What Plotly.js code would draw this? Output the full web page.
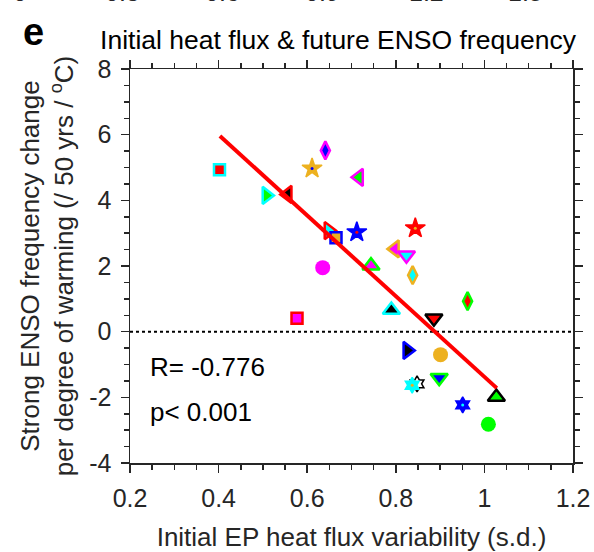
<!DOCTYPE html>
<html>
<head>
<meta charset="utf-8">
<script src="https://cdn.plot.ly/plotly-3.0.1.min.js"></script>
<style>html,body{margin:0;padding:0;background:#fff;}#chart{width:594px;height:552px;}</style>
</head>
<body>
<div id="chart"></div>
<script>
// ---- data ----
const heatFluxSD = [0.402, 0.508, 0.556, 0.641, 0.611, 0.717, 0.648, 0.665, 0.635, 0.712, 0.844, 0.798, 0.824, 0.744, 0.838, 0.962, 0.577, 0.790, 0.886, 0.826, 0.901, 0.898, 0.848, 0.837, 1.027, 0.951, 1.009];
const ensoChange = [4.93, 4.15, 4.18, 5.52, 4.97, 4.70, 3.08, 2.86, 1.95, 3.03, 3.15, 2.52, 2.33, 2.01, 1.72, 0.93, 0.41, 0.66, 0.41, -0.57, -0.70, -1.40, -1.59, -1.63, -1.99, -2.23, -2.82];
const markerSymbols = ['square','triangle-right','triangle-left','diamond-tall','star','triangle-left','triangle-right','square','circle','star','star','triangle-left','triangle-down','triangle-up','diamond-tall','diamond-tall','square','triangle-up','triangle-down','triangle-right','circle','triangle-down','hexagram','hexagram','triangle-up','hexagram','circle'];
const faceColors = ['#FF0000','#00FF00','#000000','#0000FF','#EDB120','#00FF00','#00FFFF','#EDB120','#FF00FF','#0000FF','#FF0000','#FF00FF','#00FFFF','#FF00FF','#00FFFF','#FF0000','#FF00FF','#000000','#FF0000','#000000','#EDB120','#0000FF','#FFFFFF','#00FFFF','#00FF00','#0000FF','#00FF00'];
const edgeColors = ['#00FFFF','#00FFFF','#FF0000','#FF00FF','#EDB120','#FF00FF','#FF0000','#0000FF','#FF00FF','#0000FF','#FF0000','#EDB120','#FF00FF','#00FF00','#EDB120','#00FF00','#FF0000','#00FFFF','#000000','#0000FF','#EDB120','#00FF00','#000000','#00FFFF','#000000','#0000FF','#00FF00'];
const centerDotColors = [null,null,null,null,'#0000FF',null,null,null,null,'#FF0000','#EDB120',null,null,null,null,null,null,null,null,null,null,null,null,'#EDB120',null,'#00FFFF',null];
const fitX = [0.403, 1.028];
const fitY = [5.96, -1.72];
const xTicks = [0.2, 0.4, 0.6, 0.8, 1, 1.2];
const yTicks = [-4, -2, 0, 2, 4, 6, 8];
const statLabels = ['R= -0.776', 'p< 0.001'];
const prevPanelTicks = ['0', '0.3', '0.6', '0.9', '1.2', '1.5'];

// ---- styling ----
const FONT = 'Liberation Sans, Arial, Helvetica, sans-serif';
const INK = '#262626';

function sizeFor(s) {
  if (s === 'square') return 11;
  if (s === 'circle') return 15;
  if (s === 'diamond-tall') return 13;
  if (s === 'star') return 15;
  if (s === 'hexagram') return 12;
  return 15; // triangles
}
function lineFor(s) {
  if (s === 'circle') return 0;
  if (s === 'star' || s === 'hexagram') return 1.5;
  return 2.5;
}

const pointsTrace = {
  type: 'scatter', mode: 'markers', x: heatFluxSD, y: ensoChange,
  marker: {
    opacity: 1,
    symbol: markerSymbols,
    size: markerSymbols.map(sizeFor),
    color: faceColors.map((c, i) => (markerSymbols[i] === 'star' || (markerSymbols[i] === 'hexagram' && c !== '#FFFFFF')) ? edgeColors[i] : c),
    line: { color: edgeColors, width: markerSymbols.map(lineFor) }
  },
  hoverinfo: 'skip', showlegend: false, cliponaxis: false
};

const dotIdx = centerDotColors.map((c, i) => c ? i : -1).filter(i => i >= 0);
const dotsTrace = {
  type: 'scatter', mode: 'markers',
  x: dotIdx.map(i => heatFluxSD[i]), y: dotIdx.map(i => ensoChange[i]),
  marker: { opacity: 1, symbol: 'circle', size: 3, color: dotIdx.map(i => centerDotColors[i]), line: { width: 0 } },
  hoverinfo: 'skip', showlegend: false
};

const fitTrace = {
  type: 'scatter', mode: 'lines', x: fitX, y: fitY,
  line: { color: '#FF0000', width: 4 }, hoverinfo: 'skip', showlegend: false
};

const axisCommon = {
  showline: true, linecolor: INK, linewidth: 1.5, mirror: 'allticks',
  ticks: 'outside', ticklen: 8, tickwidth: 1.5, tickcolor: INK,
  showgrid: false, zeroline: false, fixedrange: true,
  tickfont: { family: FONT, size: 25, color: INK }
};

const annotations = [
  { text: statLabels[0], x: 0.241, y: -1.08, xref: 'x', yref: 'y', xanchor: 'left', yanchor: 'middle', showarrow: false, font: { family: FONT, size: 26, color: '#000' } },
  { text: statLabels[1], x: 0.241, y: -2.44, xref: 'x', yref: 'y', xanchor: 'left', yanchor: 'middle', showarrow: false, font: { family: FONT, size: 26, color: '#000' } },
  { text: '<b>e</b>', x: (33 - 130) / 443, y: (463 - 32) / 394, xref: 'paper', yref: 'paper', xanchor: 'center', yanchor: 'middle', showarrow: false, font: { family: FONT, size: 38, color: '#000' } }
];
const prevX = [20, 122, 222, 322, 426, 525];
prevPanelTicks.forEach((t, i) => {
  annotations.push({ text: t, x: (prevX[i] - 130) / 443, y: (463 + 8.5) / 394, xref: 'paper', yref: 'paper', xanchor: 'center', yanchor: 'middle', showarrow: false, font: { family: FONT, size: 25, color: INK } });
});

const layout = {
  width: 594, height: 552,
  margin: { l: 130, r: 21, t: 69, b: 89, pad: 0 },
  paper_bgcolor: '#fff', plot_bgcolor: '#fff',
  showlegend: false,
  title: { text: 'Initial heat flux &amp; future ENSO frequency', x: 338 / 594, xanchor: 'center', y: 1 - 40 / 552, yanchor: 'middle', font: { family: FONT, size: 26.5, color: '#000' } },
  xaxis: Object.assign({}, axisCommon, {
    range: [0.2, 1.2], tickvals: xTicks, ticktext: xTicks.map(String), ticklabelstandoff: 4,
    minor: { dtick: 0.05, tick0: 0.2, ticks: 'outside', ticklen: 5, tickwidth: 1.5, tickcolor: INK, showgrid: false },
    title: { text: 'Initial EP heat flux variability (s.d.)', standoff: 18, font: { family: FONT, size: 26, color: INK } }
  }),
  yaxis: Object.assign({}, axisCommon, {
    range: [-4, 8], tickvals: yTicks, ticktext: yTicks.map(String), ticklabelstandoff: 4,
    minor: { dtick: 0.5, tick0: 0, ticks: 'outside', ticklen: 5, tickwidth: 1.5, tickcolor: INK, showgrid: false },
    title: { text: 'Strong ENSO frequency change<br>per degree of warming (/ 50 yrs / <sup>o</sup>C)', standoff: 8, font: { family: FONT, size: 26, color: INK } }
  }),
  shapes: [
    { type: 'line', xref: 'paper', x0: 0, x1: 1, yref: 'y', y0: 0, y1: 0, line: { color: '#000', width: 2, dash: 'dot' }, layer: 'below' }
  ],
  annotations: annotations
};

Plotly.newPlot('chart', [pointsTrace, dotsTrace, fitTrace], layout, { staticPlot: true, displayModeBar: false });
</script>
</body>
</html>
